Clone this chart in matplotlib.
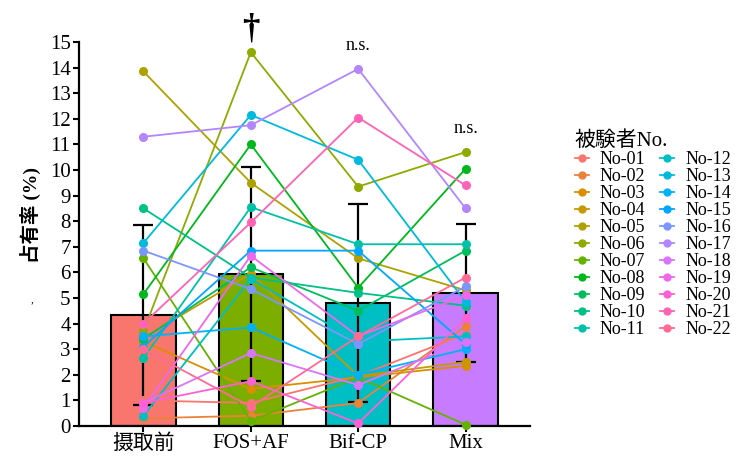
import numpy as np
import matplotlib
matplotlib.use("Agg")
import matplotlib.pyplot as plt
from matplotlib.lines import Line2D

FAM = ['Liberation Serif', 'Noto Sans CJK JP']
plt.rcParams['font.family'] = FAM

# groups and bar summary (mean, sd)
groups = ['摄取前', 'FOS+AF', 'Bif-CP', 'Mix']
bar_mean = [4.33, 5.93, 4.80, 5.19]
bar_sd = [3.51, 4.19, 3.87, 2.69]
bar_colors = ['#F8766D', '#7CAE00', '#00BFC4', '#C77CFF']

subjects = ['No-%02d' % i for i in range(1, 23)]
# values per subject: 摄取前, FOS+AF, Bif-CP, Mix
no01 = [1.00, 0.90, 1.95, 3.60]
no02 = [0.30, 0.40, 0.90, 3.90]
no03 = [3.30, 1.45, 1.90, 2.35]
no04 = [3.45, 5.95, 1.95, 2.50]
no05 = [13.85, 9.50, 6.55, 5.30]
no06 = [3.70, 14.60, 9.35, 10.70]
no07 = [6.55, 0.20, 1.90, 0.05]
no08 = [5.15, 11.00, 5.40, 10.05]
no09 = [3.40, 6.20, 4.50, 6.85]
no10 = [8.50, 5.80, 5.20, 4.70]
no11 = [2.65, 8.55, 7.10, 7.10]
no12 = [0.40, 5.75, 3.30, 3.50]
no13 = [7.15, 12.15, 10.40, 4.85]
no14 = [3.50, 3.85, 2.00, 3.00]
no15 = [3.10, 6.85, 6.85, 3.20]
no16 = [6.85, 5.35, 3.20, 5.45]
no17 = [11.30, 11.75, 13.95, 8.50]
no18 = [0.90, 2.85, 1.60, 3.30]
no19 = [0.70, 6.65, 3.50, 5.10]
no20 = [0.90, 1.75, 0.10, 4.20]
no21 = [4.00, 7.95, 12.05, 9.40]
no22 = [3.00, 0.75, 3.50, 5.80]
values = [no01, no02, no03, no04, no05, no06, no07, no08, no09, no10, no11,
          no12, no13, no14, no15, no16, no17, no18, no19, no20, no21, no22]

sig_labels = ['', '†', 'n.s.', 'n.s.']


def hue_pal(n, l=65, c=100):
    # ggplot2 style hcl palette
    hs = np.linspace(15, 375, n + 1)[:-1]
    Xn, Yn, Zn = 95.047, 100.0, 108.883
    un = 4 * Xn / (Xn + 15 * Yn + 3 * Zn)
    vn = 9 * Yn / (Xn + 15 * Yn + 3 * Zn)
    M = np.array([[3.2404542, -1.5371385, -0.4985314],
                  [-0.9692660, 1.8760108, 0.0415560],
                  [0.0556434, -0.2040259, 1.0572252]])
    out = []
    for h in hs:
        u = c * np.cos(np.radians(h))
        v = c * np.sin(np.radians(h))
        Y = Yn * ((l + 16) / 116) ** 3
        up = u / (13 * l) + un
        vp = v / (13 * l) + vn
        X = Y * 9 * up / (4 * vp)
        Z = Y * (12 - 3 * up - 20 * vp) / (4 * vp)
        rgb = M @ (np.array([X, Y, Z]) / 100)
        rgb = np.where(rgb <= 0.0031308, 12.92 * rgb,
                       1.055 * np.abs(rgb) ** (1 / 2.4) - 0.055)
        out.append(tuple(np.clip(rgb, 0, 1)))
    return out


cols = hue_pal(len(subjects))
x = np.arange(len(groups))

fig = plt.figure(figsize=(7.45, 4.63), dpi=100)
ax = fig.add_axes([79 / 745, 37 / 463, (530 - 79) / 745, (426 - 42) / 463])

ax.bar(x, bar_mean, width=0.6, color=bar_colors, edgecolor='black',
       linewidth=1.5, zorder=1)
ax.errorbar(x, bar_mean, yerr=bar_sd, fmt='none', ecolor='black',
            elinewidth=1.6, capsize=7.5, capthick=1.6, zorder=2)

for name, vals, c in zip(subjects, values, cols):
    ax.plot(x, vals, '-o', color=c, lw=1.3, ms=5.5, zorder=3,
            clip_on=False, label=name)

for xi, lab, vals in zip(x, sig_labels, zip(*values)):
    if not lab:
        continue
    top = max(vals)
    if lab == '†':
        ax.text(xi, top + 0.25, lab, ha='center', va='bottom',
                fontsize=25, fontweight='bold')
    else:
        ax.text(xi, top + 0.6, lab, ha='center', va='bottom', fontsize=13)

ax.set_xlim(-0.6, 3.6)
ax.set_ylim(0, 15)
ax.set_yticks(range(0, 16))
ax.set_xticks(x)
ax.set_xticklabels(groups, fontsize=15)
ax.tick_params(axis='y', labelsize=15, length=4, width=1.5, pad=2)
ax.tick_params(axis='x', length=4, width=1.5, pad=2)
for s in ['top', 'right']:
    ax.spines[s].set_visible(False)
for s in ['left', 'bottom']:
    ax.spines[s].set_linewidth(1.6)

fig.text(30 / 745, 1 - 215 / 463, '占有率 (%)', rotation=90, ha='center',
         va='center', fontsize=14, fontweight='bold')
fig.text(32 / 745, 1 - 300 / 463, ',', ha='center', va='center', fontsize=8)

handles = [Line2D([], [], color=c, marker='o', lw=1.3, ms=5) for c in cols]
leg = fig.legend(handles, subjects, loc='upper left',
                 bbox_to_anchor=(562 / 745, 1 - 119 / 463), ncol=2,
                 frameon=False, prop={'family': FAM, 'size': 13},
                 handlelength=0.8, handletextpad=0.6, columnspacing=0.8,
                 labelspacing=0.0, title='被験者No.',
                 title_fontproperties={'family': FAM, 'size': 15},
                 borderpad=0.2)
leg._legend_box.align = 'left'

fig.savefig('out.png', dpi=100)
